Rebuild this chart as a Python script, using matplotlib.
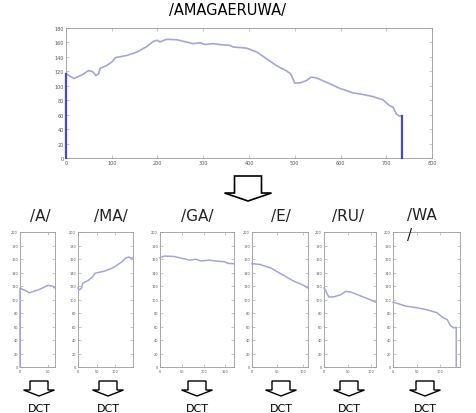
import numpy as np
import matplotlib
matplotlib.use('Agg')
import matplotlib.pyplot as plt
from matplotlib.patches import Polygon

plt.rcParams['font.family'] = ['DejaVu Sans']

W, H = 477, 414

# pitch contour of the whole word (time, pitch)
pitch_x = [0, 0, 17, 35, 49, 57, 62, 65, 71, 75, 89, 100, 108, 133, 155, 177, 191,
           199, 206, 210, 220, 242, 278, 293, 304, 322, 337, 358, 366, 380, 395,
           417, 438, 460, 481, 490, 493, 500, 511, 525, 536, 547, 577, 600, 606,
           627, 649, 671, 693, 707, 715, 722, 729, 734, 734]
pitch_y = [0, 117, 110, 115, 121, 120, 117, 114, 116.6, 124.5, 128, 132.8, 139,
           142, 146.7, 154.5, 161.5, 163, 160.6, 162, 164.3, 163.8, 158.3, 159.6,
           157, 158.4, 157, 156, 153.6, 153, 152, 146.7, 137.5, 128, 121, 117, 114,
           103.7, 104, 107, 112, 111, 102.7, 96, 94.9, 90.2, 88, 85, 80.5, 72.6,
           70.3, 61, 58, 58.8, 0]

# syllable boundaries
syllables = ['/A/', '/MA/', '/GA/', '/E/', '/RU/', '/WA\n/']
bounds = [0, 62, 210, 380, 490, 600, 742]

line_col = '#a4a4dc'
dark_col = '#4848c0'
spine_col = '#9a9a9a'


def px(l, t, r, b):
    return [l / W, 1 - b / H, (r - l) / W, (b - t) / H]


def style(ax, size):
    for s in ax.spines.values():
        s.set_color(spine_col)
        s.set_linewidth(0.6)
    ax.tick_params(direction='in', length=2, width=0.4, colors=spine_col,
                   labelcolor='#555555', labelsize=size, pad=1.5,
                   top=True, right=True)


def arrow(cx, top, sh, tip, bw, hw, lw):
    pts = [(cx - bw / 2, top), (cx + bw / 2, top), (cx + bw / 2, sh),
           (cx + hw / 2, sh), (cx, tip), (cx - hw / 2, sh), (cx - bw / 2, sh)]
    pts = [(x / W, 1 - y / H) for x, y in pts]
    fig.add_artist(Polygon(pts, closed=True, facecolor='white', edgecolor='black',
                           lw=lw, joinstyle='miter', transform=fig.transFigure))


fig = plt.figure(figsize=(W / 100, H / 100), dpi=100)

# whole word
ax = fig.add_axes(px(66, 29, 432, 159))
ax.plot(pitch_x, pitch_y, color=line_col, lw=1.2, clip_on=False, zorder=3)
ax.plot(pitch_x[:2], pitch_y[:2], color=dark_col, lw=1.6, clip_on=False, zorder=4)
ax.plot(pitch_x[-2:], pitch_y[-2:], color=dark_col, lw=1.6, clip_on=False, zorder=4)
ax.set_xlim(0, 800)
ax.set_ylim(0, 180)
ax.set_xticks(range(0, 801, 100))
ax.set_yticks(range(0, 181, 20))
style(ax, 3.5)
fig.text(228 / W, 1 - 10 / H, '/AMAGAERUWA/', ha='center', va='center', fontsize=10.5)

arrow(248, 177, 194, 202, 27, 47, 1.2)

# per-syllable panels
panel_l = [20, 78, 160, 252, 324, 393]
panel_r = [55, 133, 234, 308, 376, 460]
label_x = [40, 111, 197, 281, 348, 407]
arrow_x = [39, 108, 197, 281, 349, 425]

xs = np.array(pitch_x, dtype=float)
ys = np.array(pitch_y, dtype=float)
for i, name in enumerate(syllables):
    b0, b1 = bounds[i], bounds[i + 1]
    sel = (xs >= b0) & (xs <= b1)
    a = fig.add_axes(px(panel_l[i], 233, panel_r[i], 368))
    a.plot(xs[sel] - b0, ys[sel], color=line_col, lw=1.1, clip_on=False, zorder=3)
    a.set_xlim(0, b1 - b0)
    a.set_ylim(0, 200)
    a.set_xticks(range(0, b1 - b0 + 1, 50))
    a.set_yticks(range(0, 201, 20))
    style(a, 2.5)
    if '\n' in name:
        fig.text(label_x[i] / W, 1 - 208 / H, name, ha='left', va='top',
                 fontsize=11, linespacing=1.4, color='#222222')
    else:
        fig.text(label_x[i] / W, 1 - 217 / H, name, ha='center', va='center',
                 fontsize=11, color='#222222')
    arrow(arrow_x[i], 382, 391, 397, 18, 31, 1.0)
    fig.text(arrow_x[i] / W, 1 - 409 / H, 'DCT', ha='center', va='center',
             fontsize=8)

fig.savefig('out.png', dpi=100)
